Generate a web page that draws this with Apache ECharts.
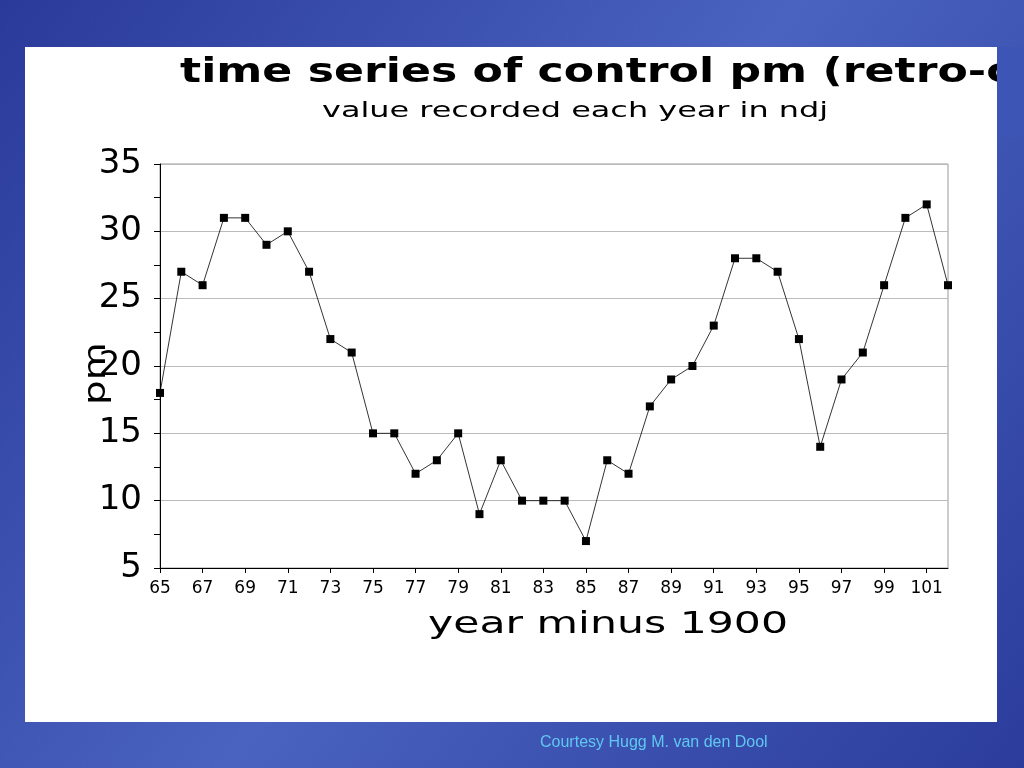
<!DOCTYPE html>
<html><head><meta charset="utf-8">
<script src="https://cdn.jsdelivr.net/npm/echarts@6/dist/echarts.min.js"></script>
<style>html,body{margin:0;padding:0;}#main{width:1024px;height:768px;}</style>
</head><body><div id="main"></div>
<script>
// years minus 1900
var years = [];
for (var y = 65; y <= 102; y++) years.push(String(y));
var pm = [18,27,26,31,31,29,30,27,22,21,15,15,12,13,15,9,13,10,10,10,7,13,12,17,19,20,23,28,28,27,22,14,19,21,26,31,32,26];

var chart = echarts.init(document.getElementById('main'));
chart.setOption({
  animation: false,
  backgroundColor: {
    type: 'linear', x: 0, y: 0, x2: 1, y2: 1,
    colorStops: [{offset: 0, color: '#2a3a9a'}, {offset: 0.5, color: '#4a63c0'}, {offset: 1, color: '#2b3c9c'}]
  },
  graphic: [
    {type: 'rect', shape: {x: 25, y: 47, width: 972, height: 675}, style: {fill: '#fff'}, z: -10},
    {type: 'text', x: 180, y: 56, scaleX: 1.3, z: 5,
      style: {text: 'time series of control pm (retro-cast)', font: 'bold 34px "DejaVu Sans"', fill: '#000'}},
    {type: 'rect', shape: {x: 997, y: 47, width: 27, height: 90}, style: {fill: '#3d55b5'}, z: 10},
    {type: 'text', x: 322, y: 100, scaleX: 1.45, z: 5,
      style: {text: 'value recorded each year in ndj', font: '22px "DejaVu Sans"', fill: '#000'}},
    {type: 'text', x: 428, y: 610, scaleX: 1.42, z: 5,
      style: {text: 'year minus 1900', font: '30px "DejaVu Sans"', fill: '#000'}},
    {type: 'text', x: 82, y: 405, rotation: Math.PI / 2 * 1, scaleX: 1.3, z: 5,
      style: {text: 'pm', font: '30px "DejaVu Sans"', fill: '#000'}},
    {type: 'text', x: 540, y: 735, z: 5,
      style: {text: 'Courtesy Hugg M. van den Dool', font: '16px "Liberation Sans", Arial', fill: '#5fc8f0'}}
  ],
  grid: {left: 160, right: 76, top: 164, bottom: 200, show: true, borderColor: '#999', borderWidth: 1, backgroundColor: '#fff'},
  xAxis: {
    type: 'category', data: years, boundaryGap: false,
    axisLine: {lineStyle: {color: '#000'}},
    axisTick: {interval: 1, lineStyle: {color: '#000'}},
    axisLabel: {interval: 1, fontSize: 17, color: '#000', fontFamily: 'DejaVu Sans', margin: 12}
  },
  yAxis: {
    type: 'value', min: 5, max: 35, interval: 5,
    axisLine: {show: true, lineStyle: {color: '#000'}},
    axisTick: {show: true, length: 6, lineStyle: {color: '#000'}},
    minorTick: {show: true, splitNumber: 2, length: 6, lineStyle: {color: '#000'}},
    splitLine: {lineStyle: {color: '#bbb'}},
    axisLabel: {fontSize: 34, color: '#000', fontFamily: 'DejaVu Sans', margin: 18}
  },
  series: [{
    type: 'line', data: pm,
    symbol: 'rect', symbolSize: 8,
    itemStyle: {color: '#000'},
    lineStyle: {color: '#000', width: 0.8}
  }]
});
</script></body></html>
